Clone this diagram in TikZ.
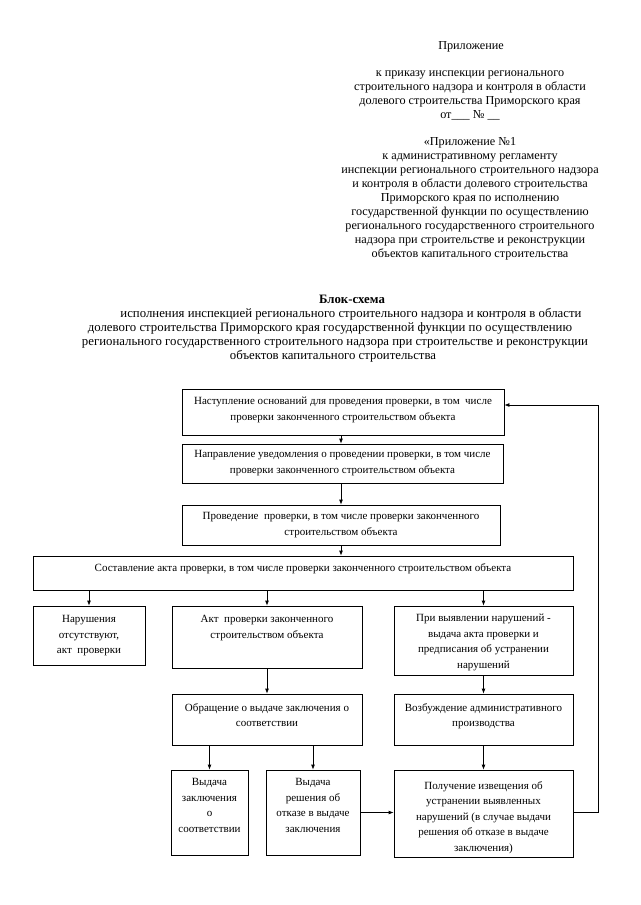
\documentclass[tikz,border=0pt]{standalone}
\usepackage{fontspec}
\setmainfont{Liberation Serif}
\usetikzlibrary{arrows.meta}
\begin{document}
\begin{tikzpicture}[x=1pt,y=-1pt,
  box/.style={draw, line width=0.8pt, inner sep=0pt},
  txt/.style={font=\fontsize{11}{15.5}\selectfont, align=center, inner sep=0pt, anchor=north},
  hdr/.style={font=\fontsize{12.2}{14}\selectfont, anchor=base, inner sep=0pt},
  sub/.style={font=\fontsize{12.8}{14}\selectfont, anchor=base, inner sep=0pt},
  arr/.style={line width=0.8pt, -{Latex[length=5pt,width=4pt]}}]
\useasboundingbox[fill=white] (0,0) rectangle (640,905);

% header
\node[hdr] (h1) at (471,49) {Приложение};
\node[hdr] (h2) at (470,76) {к приказу инспекции регионального};
\node[hdr] (h3) at (470,90) {строительного надзора и контроля в области};
\node[hdr] (h4) at (470,104) {долевого строительства Приморского края};
\node[hdr] (h5) at (470,118) {от\_\_\_\ №\ \_\_};
\node[hdr] (h6) at (470,145) {«Приложение №1};
\node[hdr] (h7) at (470,159) {к административному регламенту};
\node[hdr] (h8) at (470,173) {инспекции регионального строительного надзора};
\node[hdr] (h9) at (470,187) {и контроля в области долевого строительства};
\node[hdr] (h10) at (470,201) {Приморского края по исполнению};
\node[hdr] (h11) at (470,215) {государственной функции по осуществлению};
\node[hdr] (h12) at (470,229) {регионального государственного строительного};
\node[hdr] (h13) at (470,243) {надзора при строительстве и реконструкции};
\node[hdr] (h14) at (470,257) {объектов капитального строительства};

% title
\node[sub, font=\fontsize{12.8}{14}\selectfont\bfseries] (ti) at (352,303) {Блок-схема};
\node[sub] (s1) at (351,317) {исполнения инспекцией регионального строительного надзора и контроля в области};
\node[sub] (s2) at (330,331) {долевого строительства Приморского края государственной функции по осуществлению};
\node[sub] (s3) at (335,345) {регионального государственного строительного надзора при строительстве и реконструкции};
\node[sub] (s4) at (333,359) {объектов капитального строительства};

% boxes
\node[box, minimum width=322, minimum height=46] (b1) at (343,412) {};
\node[box, minimum width=321, minimum height=39] (b2) at (342.5,463.5) {};
\node[box, minimum width=318, minimum height=40] (b3) at (341,525) {};
\node[box, minimum width=540, minimum height=34] (b4) at (303,573) {};
\node[box, minimum width=112, minimum height=59] (b5) at (89,635.5) {};
\node[box, minimum width=190, minimum height=62] (b6) at (267,637) {};
\node[box, minimum width=179, minimum height=69] (b7) at (483.5,640.5) {};
\node[box, minimum width=190, minimum height=51] (b8) at (267,719.5) {};
\node[box, minimum width=179, minimum height=51] (b9) at (483.5,719.5) {};
\node[box, minimum width=77, minimum height=85] (b10) at (209.5,812.5) {};
\node[box, minimum width=94, minimum height=85] (b11) at (313,812.5) {};
\node[box, minimum width=179, minimum height=87] (b12) at (483.5,813.5) {};

% texts
\node[txt] (t1) at ([yshift=-8.5pt]b1.north) {Наступление оснований для проведения проверки, в том\ \ числе\\проверки законченного строительством объекта};
\node[txt] (t2) at ([yshift=-6.5pt]b2.north) {Направление уведомления о проведении проверки, в том числе\\проверки законченного строительством объекта};
\node[txt] (t3) at ([yshift=-7.5pt]b3.north) {Проведение\ \ проверки, в том числе проверки законченного\\строительством объекта};
\node[txt] (t4) at ([yshift=-7.5pt]b4.north) {Составление акта проверки, в том числе проверки законченного строительством объекта};
\node[txt] (t5) at ([yshift=-9.5pt]b5.north) {Нарушения\\отсутствуют,\\акт\ \ проверки};
\node[txt] (t6) at ([yshift=-9.5pt]b6.north) {Акт\ \ проверки законченного\\строительством объекта};
\node[txt] (t7) at ([yshift=-8.5pt]b7.north) {При выявлении нарушений -\\выдача акта проверки и\\предписания об устранении\\нарушений};
\node[txt] (t8) at ([yshift=-9.5pt]b8.north) {Обращение о выдаче заключения о\\соответствии};
\node[txt] (t9) at ([yshift=-9.5pt]b9.north) {Возбуждение административного\\производства};
\node[txt] (t10) at ([yshift=-8.5pt]b10.north) {Выдача\\заключения\\о\\соответствии};
\node[txt] (t11) at ([yshift=-8.5pt]b11.north) {Выдача\\решения об\\отказе в выдаче\\заключения};
\node[txt] (t12) at ([yshift=-11.5pt]b12.north) {Получение извещения об\\устранении выявленных\\нарушений (в случае выдачи\\решения об отказе в выдаче\\заключения)};

% connectors
\draw[arr] (b1.south -| b3.north) -- (b2.north -| b3.north);
\draw[arr] (b2.south -| b3.north) -- (b3.north);
\draw[arr] (b3.south) -- (b3.south |- b4.north);
\draw[arr] (b4.south -| b5.north) -- (b5.north);
\draw[arr] (b4.south -| b6.north) -- (b6.north);
\draw[arr] (b4.south -| b7.north) -- (b7.north);
\draw[arr] (b6.south) -- (b8.north);
\draw[arr] (b7.south) -- (b9.north);
\draw[arr] (b8.south -| b10.north) -- (b10.north);
\draw[arr] (b8.south -| b11.north) -- (b11.north);
\draw[arr] (b9.south) -- (b12.north);
\draw[arr] (b11.east) -- (b11.east -| b12.west);
\coordinate (fb) at (598,812);
\draw[arr] ([yshift=1.5pt]b12.east) -- (fb) |- ([yshift=7pt]b1.east);
\end{tikzpicture}
\end{document}
